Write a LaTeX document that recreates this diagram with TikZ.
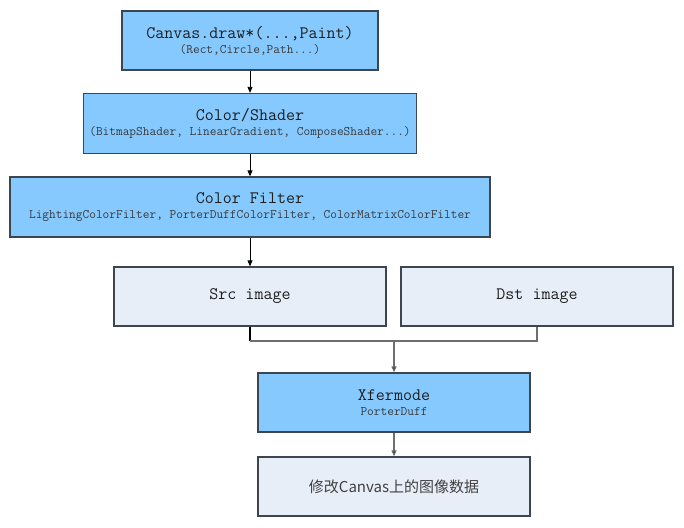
\documentclass[tikz,border=0pt]{standalone}
\usepackage{fontspec}
\newfontfamily\cjk{Noto Sans CJK SC}
\usetikzlibrary{arrows.meta}
\definecolor{boxblue}{HTML}{85C9FF}
\definecolor{boxlight}{HTML}{E8EEF8}
\definecolor{boxedge}{HTML}{3C4650}
\definecolor{linegray}{HTML}{6E6E6E}
\definecolor{txt}{HTML}{1E1E1E}
\definecolor{subtxt}{HTML}{3A3A3A}
\tikzset{
  bluebox/.style={draw=boxedge,line width=1.3pt,fill=boxblue,inner sep=0pt,align=center,font=\ttfamily,text=txt},
  lightbox/.style={draw=boxedge,line width=1.3pt,fill=boxlight,inner sep=0pt,align=center,font=\ttfamily,text=txt},
  conn/.style={line width=0.8pt,-{Triangle[length=6pt,width=5pt]}},
  grayconn/.style={draw=linegray,line width=1.2pt,-{Triangle[length=6pt,width=5pt,fill=black]}},
  grayline/.style={draw=linegray,line width=1.2pt},
}
\newcommand{\ttl}[1]{{\fontsize{17.5}{20}\selectfont #1}}
\newcommand{\sub}[1]{{\fontsize{13}{15}\selectfont\color{subtxt} #1}}
\begin{document}
\begin{tikzpicture}[x=1pt,y=-1pt]
\useasboundingbox (0,0) rectangle (684,527);
\node[bluebox,minimum width=256pt,minimum height=59pt] (canvas) at (250,40.5)
  {\ttl{Canvas.draw*(...,Paint)}\\[3pt]\sub{(Rect,Circle,Path...)}};
\node[bluebox,minimum width=333pt,minimum height=60pt] (shader) at (250,123.5)
  {\ttl{Color/Shader}\\[3pt]\sub{(BitmapShader, LinearGradient, ComposeShader...)}};
\node[bluebox,minimum width=480pt,minimum height=60pt] (filter) at (250,207)
  {\ttl{Color Filter}\\[3pt]\sub{LightingColorFilter, PorterDuffColorFilter, ColorMatrixColorFilter}};
\node[lightbox,minimum width=272pt,minimum height=59pt] (src) at (250,296.5)
  {\ttl{Src image}};
\node[lightbox,minimum width=272pt,minimum height=59pt] (dst) at (537,296.5)
  {\ttl{Dst image}};
\node[bluebox,minimum width=272pt,minimum height=59pt] (xfer) at (394,402.5)
  {\ttl{Xfermode}\\[3pt]\sub{PorterDuff}};
\node[lightbox,minimum width=272pt,minimum height=59pt,font=\cjk\fontsize{15}{18}\selectfont,text=black!75] (result) at (394,486.5)
  {修改Canvas上的图像数据};
\coordinate (join) at (394,341);
\draw[conn] (canvas.south) -- (shader.north);
\draw[conn] (shader.south) -- (filter.north);
\draw[conn] (filter.south) -- (src.north);
\draw[line width=1.2pt] (src.south) -- (src.south |- join);
\draw[grayline] (src.south |- join) -- (dst.south |- join) -- (dst.south);
\draw[grayconn] (join) -- (xfer.north);
\draw[grayconn] (xfer.south) -- (result.north);
\end{tikzpicture}
\end{document}
